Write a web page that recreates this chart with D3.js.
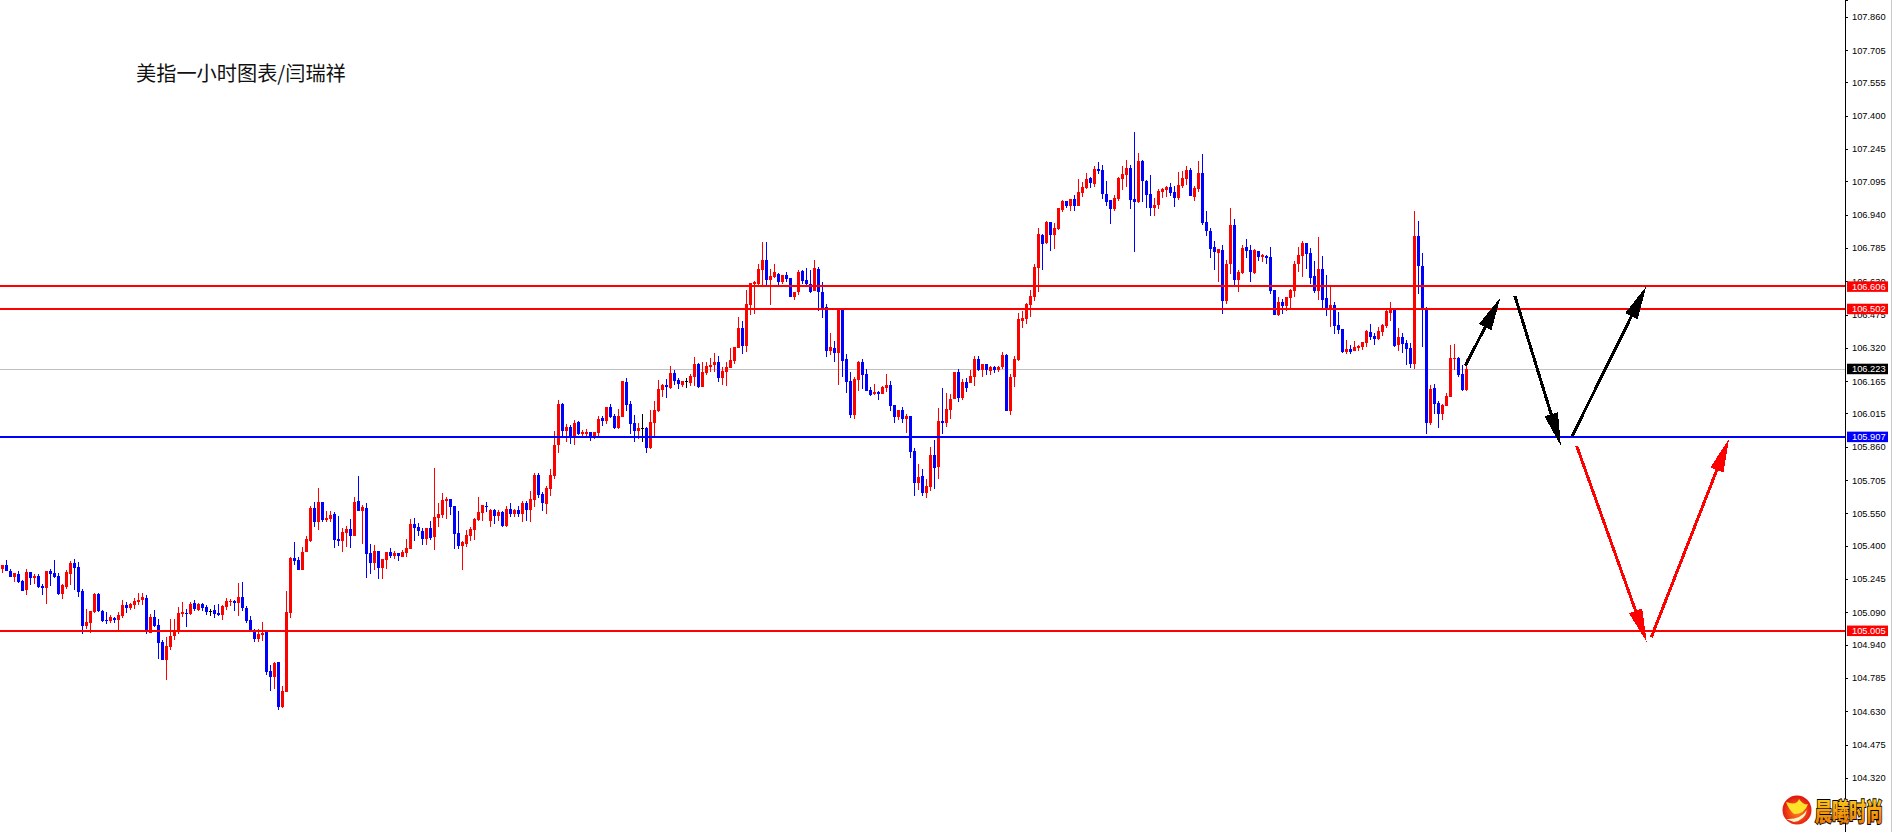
<!DOCTYPE html>
<html>
<head>
<meta charset="utf-8">
<script src="https://cdnjs.cloudflare.com/ajax/libs/d3/7.8.5/d3.min.js"></script>
<style>
html,body{margin:0;padding:0;background:#fff;overflow:hidden}
svg{display:block}
</style>
</head>
<body>
<svg id="chart" width="1892" height="832"></svg>
<script>
const titleText = "美指一小时图表/闫瑞祥";
const logoText = "晨曦时尚";
const tickLabels = [107.860,107.705,107.555,107.400,107.245,107.095,106.940,106.785,106.630,106.475,106.320,106.165,106.015,105.860,105.705,105.550,105.400,105.245,105.090,104.940,104.785,104.630,104.475,104.320];
const redLevels = [106.606,106.502,105.005];
const blueLevels = [105.907];
const lastPrice = 106.223;

const opens = [
105.292,105.311,105.283,105.255,105.269,105.236,105.195,105.278,105.250,105.260,
105.213,105.204,105.283,105.274,105.260,105.176,105.208,105.269,105.320,105.301,
105.190,105.027,105.041,105.092,105.176,105.097,105.055,105.050,105.064,105.055,
105.074,105.125,105.111,105.125,105.139,105.148,105.157,104.995,105.069,105.032,
104.953,104.869,104.929,104.981,104.999,105.083,105.088,105.083,105.134,105.101,
105.129,105.115,105.097,105.101,105.088,105.078,105.115,105.140,105.143,105.134,
105.162,105.111,105.055,105.008,104.967,104.985,105.004,104.818,104.790,104.860,
104.650,104.720,105.088,105.343,105.334,105.287,105.371,105.422,105.576,105.511,
105.604,105.520,105.525,105.548,105.432,105.422,105.460,105.478,105.446,105.608,
105.562,105.576,105.367,105.320,105.376,105.297,105.334,105.371,105.353,105.367,
105.348,105.367,105.385,105.501,105.487,105.469,105.432,105.483,105.441,105.529,
105.543,105.608,105.618,105.585,105.460,105.399,105.408,105.446,105.473,105.520,
105.553,105.585,105.515,105.566,105.539,105.557,105.492,105.571,105.548,105.566,
105.548,105.599,105.566,105.613,105.729,105.641,105.594,105.664,105.725,105.869,
106.059,105.934,105.952,105.911,105.976,105.920,105.920,105.929,105.911,105.925,
105.994,105.980,106.045,106.004,105.948,105.999,106.162,106.059,105.971,105.934,
105.948,105.948,105.855,105.971,106.027,106.125,106.148,106.134,106.204,106.171,
106.148,106.165,106.157,106.185,106.245,106.138,106.204,106.231,106.241,106.255,
106.180,106.208,106.227,106.259,106.320,106.413,106.329,106.520,106.617,106.617,
106.682,106.729,106.636,106.650,106.664,106.627,106.659,106.645,106.557,106.580,
106.678,106.636,106.617,106.585,106.687,106.580,106.510,106.306,106.320,106.297,
106.501,106.269,106.166,106.008,106.171,106.255,106.199,106.125,106.106,106.115,
106.106,106.134,106.148,106.055,105.999,106.031,105.990,106.004,105.841,105.692,
105.725,105.646,105.673,105.822,105.766,105.980,105.971,106.031,106.083,106.208,
106.087,106.162,106.157,106.185,106.269,106.217,106.245,106.213,106.231,106.217,
106.231,106.287,106.027,106.185,106.264,106.445,106.455,106.520,106.557,106.692,
106.845,106.808,106.906,106.845,106.873,106.961,107.003,106.980,107.013,106.980,
107.041,107.064,107.110,107.082,107.152,107.147,107.036,107.008,106.966,107.013,
107.106,107.124,107.157,107.013,107.000,107.189,107.096,107.036,106.971,106.985,
107.045,107.054,107.068,107.045,107.017,107.073,107.106,107.147,107.022,107.059,
107.134,106.906,106.864,106.789,106.762,106.775,106.538,106.710,106.892,106.636,
106.669,106.789,106.775,106.669,106.771,106.743,106.748,106.743,106.590,106.473,
106.534,106.515,106.552,106.585,106.710,106.748,106.808,106.762,106.655,106.585,
106.687,106.552,106.501,106.520,106.427,106.408,106.301,106.315,106.306,106.320,
106.324,106.343,106.394,106.376,106.362,106.394,106.422,106.483,106.501,106.334,
106.371,106.343,106.320,106.245,106.841,106.701,106.501,105.971,106.134,106.064,
106.013,106.050,106.092,106.269,106.273,106.199,106.124
];
const highs = [
105.312,105.334,105.292,105.274,105.283,105.241,105.292,105.278,105.269,105.269,
105.222,105.283,105.292,105.334,105.274,105.222,105.287,105.329,105.339,105.325,
105.199,105.106,105.097,105.181,105.181,105.101,105.092,105.078,105.069,105.092,
105.148,105.139,105.134,105.157,105.181,105.181,105.171,105.083,105.101,105.060,
104.962,104.976,105.060,105.060,105.115,105.139,105.106,105.139,105.148,105.134,
105.134,105.125,105.106,105.125,105.129,105.125,105.157,105.153,105.148,105.227,
105.232,105.120,105.074,105.013,105.013,105.046,105.008,104.846,104.860,104.860,
104.748,105.190,105.348,105.418,105.348,105.394,105.446,105.585,105.604,105.669,
105.604,105.562,105.562,105.557,105.539,105.483,105.492,105.525,105.627,105.725,
105.590,105.599,105.408,105.404,105.376,105.339,105.371,105.390,105.376,105.367,
105.380,105.432,105.525,105.529,105.506,105.483,105.483,105.515,105.762,105.599,
105.646,105.627,105.618,105.585,105.562,105.422,105.473,105.487,105.529,105.627,
105.590,105.604,105.571,105.571,105.566,105.562,105.585,105.599,105.571,105.585,
105.608,105.608,105.655,105.739,105.739,105.650,105.678,105.757,105.934,106.078,
106.065,105.966,105.960,105.985,105.980,105.939,105.943,105.929,105.929,106.004,
106.004,106.045,106.059,106.013,106.036,106.166,106.180,106.073,106.008,105.971,
106.013,105.952,106.031,106.073,106.171,106.152,106.176,106.236,106.217,106.180,
106.166,106.180,106.199,106.278,106.250,106.255,106.255,106.273,106.297,106.283,
106.231,106.255,106.320,106.324,106.464,106.445,106.589,106.622,106.631,106.710,
106.813,106.813,106.687,106.710,106.669,106.659,106.673,106.645,106.580,106.682,
106.682,106.692,106.682,106.729,106.696,106.627,106.524,106.390,106.352,106.501,
106.501,106.292,106.208,106.185,106.259,106.269,106.222,106.138,106.152,106.120,
106.143,106.199,106.166,106.055,106.031,106.045,106.013,106.004,105.855,105.780,
105.757,105.711,105.859,105.892,106.041,106.134,106.111,106.106,106.208,106.222,
106.176,106.180,106.217,106.283,106.283,106.245,106.245,106.236,106.236,106.236,
106.301,106.292,106.199,106.283,106.483,106.492,106.529,106.589,106.710,106.878,
106.850,106.910,106.906,106.901,106.971,107.008,107.003,107.013,107.031,107.106,
107.092,107.134,107.115,107.166,107.185,107.171,107.096,107.008,107.031,107.115,
107.166,107.194,107.171,107.324,107.227,107.194,107.101,107.124,107.017,107.059,
107.064,107.073,107.087,107.073,107.138,107.143,107.166,107.157,107.073,107.189,
107.222,106.957,106.878,106.817,106.780,106.799,106.729,106.971,106.920,106.682,
106.799,106.827,106.799,106.780,106.771,106.757,106.752,106.789,106.590,106.557,
106.548,106.557,106.594,106.724,106.789,106.817,106.808,106.785,106.724,106.836,
106.748,106.659,106.603,106.534,106.487,106.408,106.357,106.334,106.352,106.334,
106.348,106.403,106.431,106.390,106.417,106.431,106.501,106.534,106.501,106.413,
106.390,106.357,106.343,106.957,106.910,106.762,106.510,106.148,106.152,106.073,
106.059,106.111,106.334,106.338,106.278,106.241,106.269
];
const lows = [
105.275,105.283,105.252,105.233,105.224,105.190,105.171,105.218,105.222,105.204,
105.171,105.129,105.213,105.250,105.171,105.153,105.199,105.218,105.195,105.162,
104.990,105.013,104.995,105.088,105.092,105.046,105.036,105.041,105.041,105.004,
105.064,105.088,105.101,105.106,105.125,105.125,104.990,104.995,105.022,104.874,
104.869,104.776,104.915,104.962,104.990,105.069,105.022,105.078,105.097,105.097,
105.097,105.078,105.074,105.064,105.074,105.055,105.101,105.120,105.097,105.074,
105.097,105.041,105.004,104.953,104.953,104.957,104.799,104.725,104.734,104.636,
104.646,104.720,105.064,105.311,105.287,105.287,105.371,105.418,105.487,105.473,
105.511,105.511,105.511,105.390,105.399,105.371,105.394,105.390,105.446,105.562,
105.408,105.250,105.269,105.287,105.246,105.246,105.292,105.343,105.339,105.329,
105.348,105.348,105.385,105.422,105.446,105.404,105.404,105.427,105.380,105.487,
105.529,105.525,105.543,105.385,105.385,105.287,105.394,105.422,105.427,105.515,
105.515,105.557,105.487,105.501,105.515,105.487,105.487,105.534,105.534,105.534,
105.511,105.515,105.511,105.580,105.622,105.562,105.548,105.632,105.711,105.832,
105.911,105.883,105.873,105.869,105.915,105.911,105.911,105.887,105.897,105.906,
105.957,105.966,105.994,105.943,105.943,105.999,106.027,105.920,105.883,105.897,
105.883,105.832,105.850,105.911,106.022,106.092,106.087,106.129,106.148,106.129,
106.138,106.134,106.143,106.143,106.134,106.138,106.194,106.208,106.208,106.162,
106.148,106.143,106.227,106.245,106.320,106.292,106.301,106.473,106.478,106.613,
106.603,106.608,106.520,106.645,106.613,106.617,106.627,106.557,106.543,106.566,
106.617,106.603,106.576,106.585,106.492,106.459,106.278,106.287,106.255,106.148,
106.185,106.111,105.994,105.990,106.120,106.129,106.120,106.097,106.101,106.078,
106.106,106.115,106.027,105.971,105.985,105.971,105.925,105.808,105.632,105.659,
105.632,105.622,105.655,105.664,105.711,105.920,105.952,105.990,106.083,106.069,
106.078,106.115,106.157,106.143,106.213,106.185,106.194,106.194,106.204,106.208,
106.222,106.027,106.008,106.138,106.259,106.413,106.431,106.464,106.538,106.580,
106.682,106.803,106.771,106.780,106.868,106.952,106.971,106.957,106.957,106.980,
107.022,107.059,107.064,107.068,107.129,107.013,106.980,106.896,106.957,107.003,
107.054,107.068,106.966,106.766,106.994,107.000,106.971,106.934,106.934,106.966,
107.017,107.022,107.027,106.975,107.008,107.064,107.078,107.027,107.003,107.045,
106.892,106.841,106.738,106.682,106.627,106.478,106.524,106.664,106.613,106.580,
106.664,106.738,106.627,106.664,106.724,106.720,106.710,106.571,106.473,106.469,
106.478,106.492,106.501,106.557,106.673,106.650,106.687,106.617,106.576,106.543,
106.506,106.469,106.417,106.385,106.385,106.297,106.292,106.292,106.306,106.306,
106.310,106.324,106.357,106.334,106.357,106.376,106.413,106.445,106.324,106.306,
106.297,106.241,106.227,106.222,106.571,106.324,105.920,105.962,106.013,105.948,
105.985,106.050,106.092,106.218,106.185,106.120,106.120
];
const closes = [
105.308,105.283,105.255,105.274,105.232,105.190,105.278,105.250,105.260,105.208,
105.204,105.283,105.269,105.255,105.176,105.218,105.278,105.320,105.297,105.185,
105.027,105.046,105.097,105.176,105.097,105.050,105.050,105.069,105.055,105.078,
105.125,105.111,105.129,105.143,105.148,105.162,104.999,105.069,105.027,104.948,
104.869,104.934,104.981,104.999,105.088,105.092,105.084,105.129,105.106,105.129,
105.111,105.092,105.097,105.083,105.078,105.120,105.143,105.143,105.134,105.162,
105.111,105.050,105.008,104.967,104.990,104.995,104.813,104.790,104.855,104.650,
104.725,105.092,105.343,105.329,105.287,105.371,105.432,105.576,105.511,105.604,
105.520,105.529,105.543,105.427,105.422,105.464,105.478,105.446,105.604,105.562,
105.580,105.362,105.320,105.376,105.297,105.339,105.371,105.353,105.367,105.353,
105.371,105.390,105.501,105.483,105.469,105.432,105.483,105.436,105.534,105.548,
105.613,105.618,105.580,105.455,105.399,105.418,105.450,105.478,105.525,105.557,
105.590,105.582,105.566,105.539,105.557,105.492,105.571,105.548,105.566,105.548,
105.599,105.566,105.618,105.729,105.636,105.599,105.669,105.729,105.869,106.059,
105.934,105.952,105.901,105.971,105.920,105.929,105.929,105.906,105.929,105.990,
105.980,106.045,105.999,105.948,106.004,106.166,106.055,105.966,105.934,105.948,
105.948,105.855,105.976,106.031,106.129,106.148,106.138,106.204,106.166,106.152,
106.166,106.165,106.190,106.245,106.138,106.208,106.236,106.241,106.255,106.180,
106.213,106.231,106.264,106.324,106.413,106.329,106.524,106.622,106.627,106.687,
106.729,106.636,106.655,106.673,106.627,106.659,106.641,106.557,106.580,106.673,
106.631,106.617,106.580,106.692,106.580,106.506,106.306,106.324,106.297,106.501,
106.259,106.162,106.008,106.176,106.255,106.194,106.120,106.101,106.115,106.106,
106.138,106.148,106.050,105.999,106.031,105.990,106.004,105.836,105.692,105.720,
105.646,105.678,105.822,105.762,105.980,105.971,106.036,106.083,106.208,106.087,
106.162,106.134,106.190,106.269,106.217,106.245,106.217,106.231,106.217,106.231,
106.287,106.027,106.185,106.269,106.455,106.459,106.524,106.562,106.696,106.850,
106.803,106.906,106.845,106.878,106.971,107.003,106.980,107.013,106.980,107.045,
107.068,107.106,107.087,107.152,107.143,107.036,106.999,106.966,107.017,107.110,
107.129,107.157,107.008,107.000,107.189,107.096,107.031,106.971,106.985,107.050,
107.059,107.068,107.041,107.017,107.078,107.110,107.147,107.027,107.064,107.134,
106.901,106.864,106.780,106.766,106.780,106.538,106.710,106.892,106.636,106.673,
106.785,106.771,106.673,106.775,106.743,106.752,106.738,106.585,106.473,106.534,
106.515,106.557,106.590,106.710,106.752,106.808,106.757,106.645,106.585,106.687,
106.543,106.506,106.520,106.422,106.403,106.301,106.315,106.301,106.324,106.329,
106.348,106.399,106.371,106.362,106.399,106.427,106.492,106.501,106.329,106.371,
106.338,106.315,106.245,106.841,106.701,106.496,105.971,106.129,106.059,106.013,
106.055,106.097,106.273,106.273,106.194,106.124,106.222
];

const arrowFromIndex = [365.7,378.1,392.4,393.55,412.2];
const arrowFromPrice = [106.237,106.561,105.909,105.864,104.974];
const arrowToIndex   = [374.45,389.6,410.9,411.05,431.6];
const arrowToPrice   = [106.553,105.864,106.605,104.952,105.895];
const arrowColors    = ["#000000","#000000","#000000","#ff0000","#ff0000"];

const width = 1892, height = 832, axisX = 1845;
const svg = d3.select("#chart");
const x = d3.scaleLinear().domain([0,366]).range([2.5,1466.5]);
const y = d3.scaleLinear().domain([104.068,107.938]).range([832,0]);
const indices = d3.range(opens.length);
const colorOf = i => closes[i] > opens[i] ? "#ff0000" : closes[i] < opens[i] ? "#0000ff" : "#000000";

// gray last-price line sits beneath the candles
svg.append("line").attr("x1",0).attr("x2",axisX)
  .attr("y1",Math.round(y(lastPrice))+0.5).attr("y2",Math.round(y(lastPrice))+0.5)
  .attr("stroke","#c0c0c0").attr("stroke-width",1);

const candles = svg.append("g").attr("shape-rendering","crispEdges");
candles.selectAll("rect.wick").data(indices).join("rect").attr("class","wick")
  .attr("x",i=>x(i)-0.5).attr("width",1)
  .attr("y",i=>Math.round(y(highs[i])))
  .attr("height",i=>Math.max(1,Math.round(y(lows[i]))-Math.round(y(highs[i]))))
  .attr("fill",colorOf);
candles.selectAll("rect.body").data(indices).join("rect").attr("class","body")
  .attr("x",i=>x(i)-1.5).attr("width",3)
  .attr("y",i=>Math.round(y(Math.max(opens[i],closes[i]))))
  .attr("height",i=>Math.max(1,Math.round(y(Math.min(opens[i],closes[i])))-Math.round(y(Math.max(opens[i],closes[i])))))
  .attr("fill",colorOf);

// horizontal levels
const levels = svg.append("g").attr("shape-rendering","crispEdges");
levels.selectAll("line.red").data(redLevels).join("line").attr("class","red")
  .attr("x1",0).attr("x2",axisX).attr("y1",d=>y(d)).attr("y2",d=>y(d))
  .attr("stroke","#ff0000").attr("stroke-width",2);
levels.selectAll("line.blue").data(blueLevels).join("line").attr("class","blue")
  .attr("x1",0).attr("x2",axisX).attr("y1",d=>y(d)).attr("y2",d=>y(d))
  .attr("stroke","#0000ff").attr("stroke-width",2);

// arrows
const arrows = svg.append("g").attr("shape-rendering","crispEdges");
const pathLine = d3.line();
arrowFromIndex.forEach((_,k)=>{
  const x0=x(arrowFromIndex[k]), y0=y(arrowFromPrice[k]), x1=x(arrowToIndex[k]), y1=y(arrowToPrice[k]);
  const len=Math.hypot(x1-x0,y1-y0), ux=(x1-x0)/len, uy=(y1-y0)/len;
  const headLen=33, half=7;
  const bx=x1-ux*headLen, by=y1-uy*headLen;
  arrows.append("path").attr("d",pathLine([[x0,y0],[bx,by]]))
    .attr("fill","none").attr("stroke",arrowColors[k]).attr("stroke-width",3);
  arrows.append("path").attr("d",pathLine([[x1,y1],[bx-uy*half,by+ux*half],[bx+uy*half,by-ux*half]])+"Z")
    .attr("fill",arrowColors[k]);
});

// title
svg.append("text").attr("x",136).attr("y",80.5)
  .attr("font-family","'Noto Sans CJK SC'").attr("font-size",20.2).attr("fill","#111")
  .text(titleText);

// price axis
const axis = d3.axisRight(y).tickValues(tickLabels).tickSize(3).tickPadding(4).tickFormat(d3.format(".3f"));
const axisG = svg.append("g").attr("transform",`translate(${axisX},0)`).call(axis);
axisG.selectAll("text").attr("font-family","'Liberation Sans'").attr("font-size",9.3).attr("fill","#000");
axisG.select(".domain").attr("stroke","#000").attr("shape-rendering","crispEdges");
axisG.selectAll(".tick line").attr("stroke","#000").attr("shape-rendering","crispEdges");
svg.append("rect").attr("x",1891).attr("y",0).attr("width",1).attr("height",height).attr("fill","#c8c8c8");

// price flags
const flags = [
  ...redLevels.map(v=>({v,c:"#ff0000"})),
  ...blueLevels.map(v=>({v,c:"#0000ff"})),
  {v:lastPrice,c:"#000000"}
];
const flagG = svg.append("g");
flagG.selectAll("rect").data(flags).join("rect")
  .attr("x",1847).attr("width",41).attr("y",d=>y(d.v)-5).attr("height",10.5).attr("fill",d=>d.c);
flagG.selectAll("text").data(flags).join("text")
  .attr("x",1852).attr("y",d=>y(d.v)+3.3)
  .attr("font-family","'Liberation Sans'").attr("font-size",9.3).attr("fill","#fff")
  .text(d=>d3.format(".3f")(d.v));

// logo
const defs = svg.append("defs");
const rad = defs.append("radialGradient").attr("id","logoRed").attr("cx","0.5").attr("cy","0.55").attr("r","0.55");
rad.append("stop").attr("offset","0").attr("stop-color","#ff8a1e");
rad.append("stop").attr("offset","1").attr("stop-color","#e01010");
const gold = defs.append("linearGradient").attr("id","logoGold").attr("x1","0").attr("y1","0").attr("x2","0").attr("y2","1");
gold.append("stop").attr("offset","0").attr("stop-color","#ffe020");
gold.append("stop").attr("offset","1").attr("stop-color","#e86a00");
const logo = svg.append("g");
logo.append("circle").attr("cx",1797).attr("cy",810).attr("r",14.5).attr("fill","url(#logoRed)");
logo.append("path").attr("d","M1786 802 Q1797 806 1799 799 Q1804 806 1808 804 Q1805 814 1794 814 Q1789 810 1786 802Z").attr("fill","#ffe22a");
logo.append("path").attr("d","M1786 819 Q1800 820 1807 810 Q1805 820 1794 822 Z").attr("fill","#fff3c8");
logo.append("text").attr("transform","translate(1815,821) scale(1,1.45)")
  .attr("font-family","'Noto Sans CJK SC'").attr("font-weight",900).attr("font-size",17)
  .attr("fill","url(#logoGold)").attr("stroke","#000").attr("stroke-width",1.3).attr("paint-order","stroke")
  .text(logoText);
</script>
</body>
</html>
